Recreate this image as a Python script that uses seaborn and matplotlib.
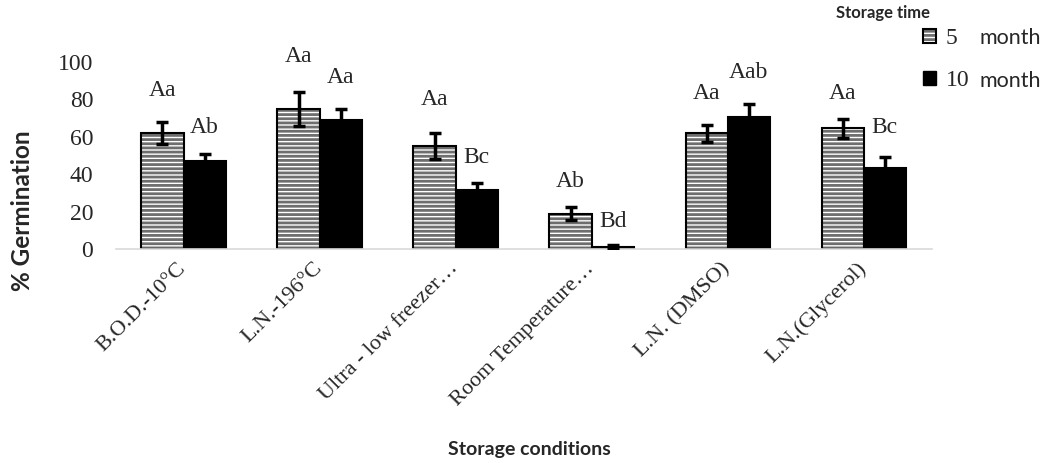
import matplotlib
matplotlib.use('Agg')
import matplotlib.pyplot as plt
from matplotlib.patches import Patch, Rectangle
from matplotlib.font_manager import FontProperties
import seaborn as sns
import pandas as pd

# data
conditions = ['B.O.D.-10°C', 'L.N.-196°C', 'Ultra - low freezer…',
              'Room Temperature…', 'L.N. (DMSO)', 'L.N.(Glycerol)']
germ_5 = [62, 75, 55, 19, 62, 64.5]
err_5 = [6, 9, 7, 3.5, 4.5, 5]
germ_10 = [47, 69, 31.5, 1, 70.5, 43.5]
err_10 = [4, 6, 4, 1, 7, 6]
letters_5 = ['Aa', 'Aa', 'Aa', 'Ab', 'Aa', 'Aa']
letters_5_y = [85, 103, 80, 36, 83, 83]
letters_10 = ['Ab', 'Aa', 'Bc', 'Bd', 'Aab', 'Bc']
letters_10_y = [65, 92, 49, 14.5, 94.5, 65]
yticks = [0, 20, 40, 60, 80, 100]
times = ['5', '10']

df = pd.DataFrame({
    'condition': conditions * 2,
    'germination': germ_5 + germ_10,
    'time': [times[0]] * len(conditions) + [times[1]] * len(conditions),
})

sns.set_style('white')
plt.rcParams['hatch.linewidth'] = 2.0
serif = 'Liberation Serif'
sans = 'Lato'

fig = plt.figure(figsize=(10.6, 4.63), dpi=100)
ax = fig.add_axes([0.109, 0.462, 0.77, 0.404])

sns.barplot(data=df, x='condition', y='germination', hue='time',
            palette=['white', 'black'], width=0.62, errorbar=None,
            edgecolor='black', linewidth=1.5, legend=False, ax=ax)

# hatched 5-month bars: gray stripes + black outline
for p in ax.containers[0]:
    p.set_edgecolor('#6e6e6e')
    p.set_hatch('----')
    p.set_linewidth(0)
    ax.add_patch(Rectangle(p.get_xy(), p.get_width(), p.get_height(),
                           fill=False, edgecolor='black', linewidth=1.5,
                           zorder=p.get_zorder() + 0.1))

# error bars and letters
for cont, errs, labs, laby in [(ax.containers[0], err_5, letters_5, letters_5_y),
                               (ax.containers[1], err_10, letters_10, letters_10_y)]:
    xs = [p.get_x() + p.get_width() / 2 for p in cont]
    hs = [p.get_height() for p in cont]
    ax.errorbar(xs, hs, yerr=errs, fmt='none', ecolor='black',
                elinewidth=2.5, capsize=4.3, capthick=2.5, zorder=5)
    for x, t, y in zip(xs, labs, laby):
        ax.text(x, y, t, ha='center', va='center', fontsize=17,
                family=serif, clip_on=False)

ax.set_ylim(0, 100)
ax.set_xlim(-0.5, len(conditions) - 0.5)
ax.set_xlabel('')
ax.set_ylabel('')
ax.tick_params(axis='both', length=0)
ax.tick_params(axis='y', pad=16)
ax.tick_params(axis='x', pad=12)
ax.set_yticks(yticks)
ax.set_yticklabels([str(v) for v in yticks], fontsize=17, family=serif)
ax.set_xticks(range(len(conditions)))
ax.set_xticklabels(conditions, rotation=45, ha='right', va='center',
                   rotation_mode='anchor', fontsize=16, family=serif)
for s in ['left', 'top', 'right']:
    ax.spines[s].set_visible(False)
ax.spines['bottom'].set_color('#d9d9d9')
ax.spines['bottom'].set_linewidth(1.2)

fig.text(23 / 1060, 1 - 211 / 463, '% Germination', rotation=90,
         ha='center', va='center', fontsize=17.5, fontweight='bold', family=sans)
fig.text(529 / 1060, 1 - 449 / 463, 'Storage conditions',
         ha='center', va='center', fontsize=14, fontweight='bold', family=sans)
fig.text(883 / 1060, 1 - 13 / 463, 'Storage time',
         ha='center', va='center', fontsize=12, fontweight='bold', family=sans)

# legend
h5 = (Patch(facecolor='white', edgecolor='#6e6e6e', hatch='----', linewidth=0),
      Patch(facecolor='none', edgecolor='black', linewidth=1.5))
h10 = Patch(facecolor='black', edgecolor='black')
leg = ax.legend([h5, h10], times, loc='upper left',
                bbox_to_anchor=(923 / 1060, 1 - 28 / 463),
                bbox_transform=fig.transFigure, frameon=False,
                handlelength=0.55, handleheight=0.55, handletextpad=0.4,
                labelspacing=0.9, borderpad=0, borderaxespad=0,
                prop=FontProperties(family=serif, size=17))
for t in leg.get_texts():
    t.set_fontproperties(FontProperties(family=serif, size=17))

# "month" in sans, next to the legend numbers
fig.canvas.draw()
first = leg.get_texts()[0].get_window_extent()
for t in leg.get_texts():
    bb = t.get_window_extent()
    fig.text((first.x0 + 34) / 1060, (bb.y0 + bb.y1) / 2 / 463, 'month',
             ha='left', va='center', fontsize=15.5, family=sans)

fig.savefig('out.png', dpi=100)
